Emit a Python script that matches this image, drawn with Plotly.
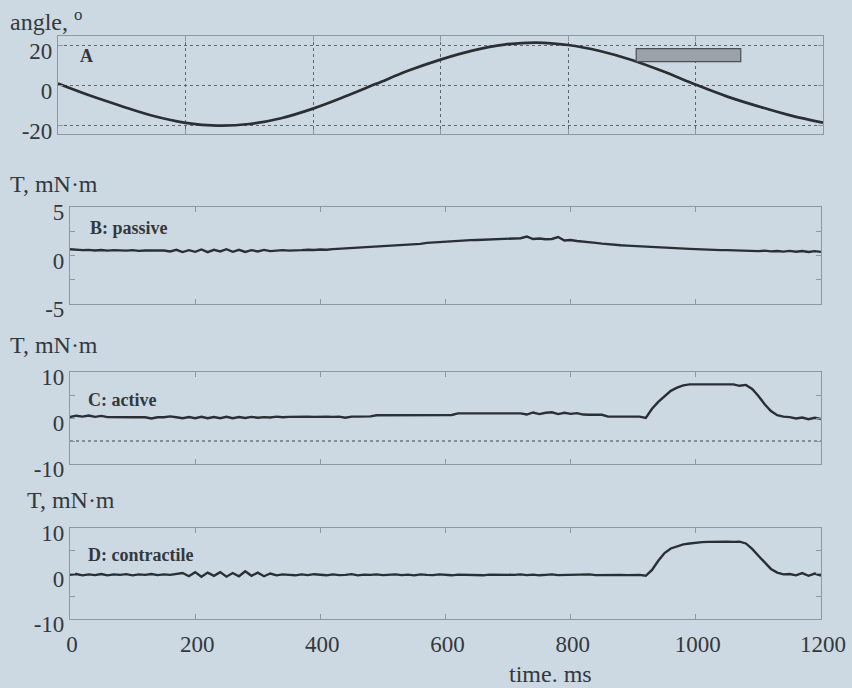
import plotly.graph_objects as go

# ---------------- data ----------------
# Panel A: joint angle (deg), sampled every 50 ms
angle_time = [0, 50, 100, 150, 200, 250, 300, 350, 400, 450, 500, 550, 600,
              650, 700, 750, 800, 850, 900, 950, 1000, 1050, 1100, 1150, 1200]
angle_deg = [1.0, -5.0, -10.3, -15.2, -18.6, -20.0, -19.2, -16.3, -11.5, -5.5, 1.0,
             7.5, 13.0, 17.5, 20.5, 21.5, 20.3, 17.3, 12.8, 7.0, 0.5, -5.5, -10.5,
             -15.0, -18.5]

# Torque traces (mN·m), sampled every 10 ms
torque_time = list(range(0, 1201, 10))

passive = [0.65, 0.60, 0.55, 0.58, 0.52, 0.56, 0.50, 0.55, 0.52, 0.50, 0.55, 0.48, 0.52,
           0.50, 0.47, 0.52, 0.42, 0.58, 0.35, 0.55, 0.38, 0.62, 0.35, 0.58, 0.42, 0.65,
           0.38, 0.58, 0.36, 0.55, 0.42, 0.58, 0.45, 0.50, 0.55, 0.50, 0.56, 0.55, 0.60,
           0.57, 0.62, 0.60, 0.66, 0.70, 0.72, 0.76, 0.80, 0.85, 0.90, 0.93, 0.97, 1.00,
           1.03, 1.05, 1.10, 1.15, 1.20, 1.30, 1.35, 1.40, 1.45, 1.47, 1.50, 1.55, 1.58,
           1.60, 1.62, 1.65, 1.70, 1.68, 1.75, 1.70, 1.78, 1.95, 1.70, 1.75, 1.68, 1.70,
           1.90, 1.55, 1.60, 1.50, 1.45, 1.38, 1.30, 1.22, 1.15, 1.10, 1.05, 1.02, 0.98,
           0.92, 0.88, 0.85, 0.82, 0.78, 0.75, 0.72, 0.70, 0.68, 0.66, 0.62, 0.60, 0.58,
           0.55, 0.55, 0.52, 0.50, 0.50, 0.48, 0.45, 0.50, 0.43, 0.47, 0.40, 0.48, 0.38,
           0.46, 0.36, 0.45, 0.37]

active = [0.20, 0.50, 0.30, 0.55, 0.25, 0.45, 0.20, 0.15, 0.15, 0.15, 0.15, 0.15, 0.15,
          -0.10, 0.15, 0.15, 0.35, 0.15, -0.05, 0.20, -0.05, 0.25, -0.05, 0.20, -0.05,
          0.25, -0.05, 0.20, 0.00, 0.25, 0.05, 0.20, 0.10, 0.30, 0.15, 0.25, 0.30, 0.25,
          0.30, 0.25, 0.35, 0.30, 0.25, 0.30, 0.05, 0.30, 0.30, 0.35, 0.35, 0.60, 0.60,
          0.60, 0.60, 0.60, 0.60, 0.60, 0.60, 0.65, 0.65, 0.65, 0.65, 0.65, 1.00, 1.00,
          1.00, 1.00, 1.00, 1.00, 1.00, 1.00, 1.05, 1.00, 1.00, 0.75, 1.20, 0.85, 1.15,
          1.25, 0.85, 1.15, 0.90, 1.05, 0.75, 0.70, 0.70, 0.70, 0.30, 0.30, 0.30, 0.30,
          0.30, 0.30, 0.00, 2.00, 3.50, 4.80, 5.90, 6.60, 7.10, 7.30, 7.30, 7.30, 7.30,
          7.30, 7.30, 7.30, 7.30, 7.00, 7.20, 6.30, 4.80, 3.00, 1.50, 0.60, 0.30, 0.20,
          -0.10, 0.10, -0.25, 0.05, -0.20]

contractile = [-0.30, -0.10, -0.40, -0.20, -0.35, -0.10, -0.40, -0.20, -0.30, -0.15, -0.40,
               -0.20, -0.30, -0.10, -0.35, -0.20, -0.30, -0.15, 0.10, -0.60, 0.30, -0.70,
               0.20, -0.50, 0.30, -0.70, 0.10, -0.60, 0.50, -0.50, 0.20, -0.60, 0.00,
               -0.40, -0.20, -0.30, -0.40, -0.20, -0.35, -0.15, -0.30, -0.40, -0.20,
               -0.35, -0.30, -0.15, -0.40, -0.25, -0.30, -0.20, -0.35, -0.30, -0.20,
               -0.35, -0.25, -0.40, -0.20, -0.30, -0.35, -0.20, -0.30, -0.40, -0.25,
               -0.30, -0.20, -0.35, -0.40, -0.25, -0.30, -0.20, -0.40, -0.30, -0.20,
               -0.35, -0.25, -0.40, -0.30, -0.20, -0.35, -0.30, -0.40, -0.25, -0.30,
               -0.20, -0.35, -0.30, -0.40, -0.25, -0.30, -0.35, -0.30, -0.30, -0.50,
               0.80, 2.80, 4.50, 5.50, 6.00, 6.40, 6.60, 6.80, 6.90, 6.95, 7.00, 6.95,
               7.00, 6.95, 7.00, 6.60, 5.40, 3.90, 2.40, 1.00, 0.20, -0.20, -0.10, -0.40,
               0.10, -0.50, 0.00, -0.45, 0.05, -0.40]

stim_on, stim_off = 907, 1071        # stimulation bar (ms)
stim_low, stim_high = 12.0, 18.5     # drawn position of the bar on the angle axis
ref_level_active = -5                # dotted reference level in panel C

x_ticks = [0, 200, 400, 600, 800, 1000, 1200]
a_ticks = [-20, 0, 20]
b_ticks = [-5, 0, 5]
cd_ticks = [-10, 0, 10]

# ---------------- style ----------------
BG = "rgb(205,217,226)"
LINE = "#2a2f35"
AXC = "#8f989f"
TXT = "#33383d"
FONT = "Liberation Serif, Times New Roman, serif"

W, H = 852, 688
def px_x(x0, x1):
    return [x0 / W, x1 / W]
def px_y(top, bottom):
    return [1 - bottom / H, 1 - top / H]
def labels(vals):
    return [str(v) for v in vals]   # plain hyphen minus like the original

fig = go.Figure()
fig.add_trace(go.Scatter(x=angle_time, y=angle_deg, mode="lines", line=dict(color=LINE, width=2.7, shape="spline"),
                         xaxis="x", yaxis="y", showlegend=False))
fig.add_trace(go.Scatter(x=torque_time, y=passive, mode="lines", line=dict(color=LINE, width=2.4),
                         xaxis="x2", yaxis="y2", showlegend=False))
fig.add_trace(go.Scatter(x=[0, 1200], y=[ref_level_active, ref_level_active], mode="lines",
                         line=dict(color="#3c4248", width=1, dash="dot"),
                         xaxis="x3", yaxis="y3", showlegend=False))
fig.add_trace(go.Scatter(x=torque_time, y=active, mode="lines", line=dict(color=LINE, width=2.4),
                         xaxis="x3", yaxis="y3", showlegend=False))
fig.add_trace(go.Scatter(x=torque_time, y=contractile, mode="lines", line=dict(color=LINE, width=2.4),
                         xaxis="x4", yaxis="y4", showlegend=False))

tickfont = dict(family=FONT, size=23, color=TXT)
common_x = dict(range=[0, 1200], showline=True, linecolor=AXC, linewidth=1.2, mirror="ticks",
                ticks="inside", ticklen=5, tickcolor=AXC, tickvals=x_ticks, ticktext=labels(x_ticks),
                zeroline=False, tickfont=tickfont, automargin=False)
common_y = dict(showline=True, linecolor=AXC, linewidth=1.2, mirror="ticks", ticks="inside",
                ticklen=5, tickcolor=AXC, zeroline=False, tickfont=tickfont, showgrid=False,
                automargin=False, ticklabelshift=5, ticklabelstandoff=0)

fig.update_layout(
    template="none",
    width=W, height=H, autosize=False,
    margin=dict(l=0, r=0, t=0, b=0, pad=0, autoexpand=False),
    paper_bgcolor=BG, plot_bgcolor=BG,
    font=dict(family=FONT, color=TXT),
    xaxis=dict(common_x, domain=px_x(58, 823), anchor="y", showticklabels=False, showgrid=True,
               gridcolor="#5d646a", griddash="dot", gridwidth=1),
    yaxis=dict(common_y, domain=px_y(36, 134), anchor="x", range=[-24.2, 24.8],
               tickvals=a_ticks, ticktext=labels(a_ticks), showgrid=True, gridcolor="#5d646a",
               griddash="dot", gridwidth=1),
    xaxis2=dict(common_x, domain=px_x(70, 821), anchor="y2", showticklabels=False, showgrid=False),
    yaxis2=dict(common_y, domain=px_y(207, 304), anchor="x2", range=[-5, 5], tickvals=b_ticks,
                ticktext=labels(b_ticks),
                minor=dict(tickvals=[-2.5, 2.5], ticks="inside", ticklen=5, tickcolor=AXC)),
    xaxis3=dict(common_x, domain=px_x(70, 821), anchor="y3", showticklabels=False, showgrid=False),
    yaxis3=dict(common_y, domain=px_y(372, 464), anchor="x3", range=[-10, 10], tickvals=cd_ticks,
                ticktext=labels(cd_ticks),
                minor=dict(tickvals=[-5, 5], ticks="inside", ticklen=5, tickcolor=AXC)),
    xaxis4=dict(common_x, domain=px_x(70, 821), anchor="y4", showticklabels=True, showgrid=False,
                ticklabelstandoff=4, ticklabelshift=2),
    yaxis4=dict(common_y, domain=px_y(528, 619), anchor="x4", range=[-10, 10], tickvals=cd_ticks,
                ticktext=labels(cd_ticks),
                minor=dict(tickvals=[-5, 5], ticks="inside", ticklen=5, tickcolor=AXC)),
)

# stimulation bar in panel A
fig.add_shape(type="rect", xref="x", yref="y", x0=stim_on, x1=stim_off, y0=stim_low, y1=stim_high,
              fillcolor="#9aa3aa", line=dict(color="#4a5056", width=1.2))

def ann(text, x, y, size=24, bold=False, xanchor="left"):
    fig.add_annotation(text=(f"<b>{text}</b>" if bold else text), x=x / W, y=1 - y / H,
                       xref="paper", yref="paper", xanchor=xanchor, yanchor="middle",
                       showarrow=False, font=dict(family=FONT, size=size, color=TXT))

ann("angle, <sup>o</sup>", 8, 20)
ann("T, mN·m", 8, 184)
ann("T, mN·m", 8, 345)
ann("T, mN·m", 25, 500)
ann("A", 78, 56, size=18, bold=True)
ann("B: passive", 88, 228, size=18, bold=True)
ann("C: active", 86, 400, size=18, bold=True)
ann("D: contractile", 86, 555, size=18, bold=True)
ann("time. ms", 550, 674, xanchor="center")

fig.write_html(
    "out.html",
    config={"displayModeBar": False},
    post_script=("document.body.style.margin='0px';"
                 "document.body.style.overflow='hidden';"
                 f"document.body.style.background='{BG}';"),
)
